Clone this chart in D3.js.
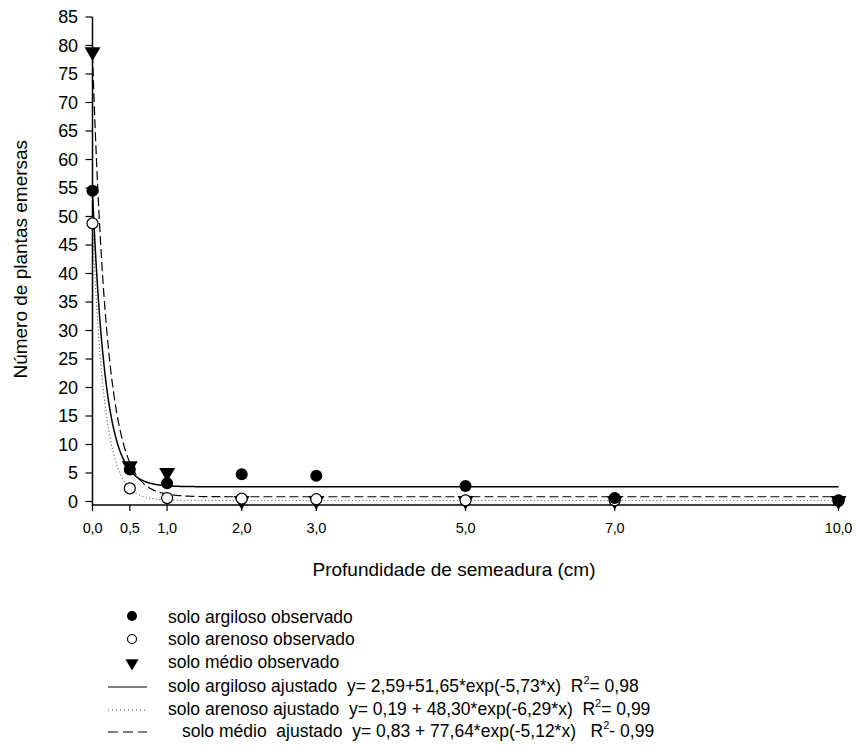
<!DOCTYPE html>
<html><head><meta charset="utf-8">
<script src="https://cdn.jsdelivr.net/npm/d3@7"></script>
<style>body{margin:0;background:#fff}svg text{font-family:"Liberation Sans",Arial,sans-serif;fill:#000}</style>
</head><body>
<script>
const xTicks = [0, 0.5, 1, 2, 3, 5, 7, 10];
const xTickLabels = ["0,0","0,5","1,0","2,0","3,0","5,0","7,0","10,0"];
const yTicks = [0,5,10,15,20,25,30,35,40,45,50,55,60,65,70,75,80,85];
const depth = [0, 0.5, 1, 2, 3, 5, 7, 10];
const argiloso = [54.5, 5.6, 3.2, 4.8, 4.5, 2.7, 0.6, 0.2];
const arenoso = [48.8, 2.3, 0.6, 0.5, 0.4, 0.2, 0.2, 0.1];
const medio = [78.7, 6.1, 4.9, 0, 0, 0, 0, 0];
// fitted model y = a + b*exp(-c*x), parameters as printed in the legend
const fitArgiloso = [2.59, 51.65, 5.73];
const fitArenoso = [0.19, 48.30, 6.29];
const fitMedio = [0.83, 77.64, 5.12];
const legendLabels = [
  "solo argiloso observado",
  "solo arenoso observado",
  "solo médio observado",
  "solo argiloso ajustado  y= 2,59+51,65*exp(-5,73*x)  R",
  "solo arenoso ajustado  y= 0,19 + 48,30*exp(-6,29*x)  R",
  "solo médio  ajustado  y= 0,83 + 77,64*exp(-5,12*x)   R"
];
const legendR2 = ["= 0,98", "= 0,99", "- 0,99"];

const W = 858, H = 749;
const svg = d3.select("body").append("svg").attr("width", W).attr("height", H);
const x = d3.scaleLinear().domain([0, 10]).range([92.5, 838.5]);
const y = d3.scaleLinear().domain([0, 85]).range([501.5, 17]);
const axisY = 505;

// axes
svg.append("line").attr("x1", x(0)).attr("x2", x(0)).attr("y1", y(85)).attr("y2", axisY + 1)
  .attr("stroke", "#000").attr("stroke-width", 1.5);
svg.append("line").attr("x1", x(0)).attr("x2", x(10)).attr("y1", axisY).attr("y2", axisY)
  .attr("stroke", "#000").attr("stroke-width", 1.5);
const gy = svg.append("g");
yTicks.forEach(t => {
  gy.append("line").attr("x1", x(0) - 7).attr("x2", x(0)).attr("y1", y(t)).attr("y2", y(t))
    .attr("stroke", "#000").attr("stroke-width", 1.2);
  gy.append("text").attr("x", x(0) - 15).attr("y", y(t)).attr("dy", "0.36em")
    .attr("text-anchor", "end").attr("font-size", 18).attr("letter-spacing", -0.4).text(t);
});
const gx = svg.append("g");
xTicks.forEach((t, i) => {
  gx.append("line").attr("x1", x(t)).attr("x2", x(t)).attr("y1", axisY).attr("y2", axisY + 6)
    .attr("stroke", "#000").attr("stroke-width", 1.2);
  gx.append("text").attr("x", x(t)).attr("y", 533).attr("text-anchor", "middle")
    .attr("font-size", 14.5).attr("letter-spacing", -0.2).text(xTickLabels[i]);
});
svg.append("text").attr("x", 454).attr("y", 576).attr("text-anchor", "middle")
  .attr("font-size", 19).text("Profundidade de semeadura (cm)");
svg.append("text").attr("transform", `translate(27,${(y(85) + y(0)) / 2}) rotate(-90)`)
  .attr("text-anchor", "middle").attr("font-size", 19)
  .text("Número de plantas emersas");

// fitted curves
const xs = d3.range(0, 10.0001, 0.01);
const line = d3.line().x(d => x(d[0])).y(d => y(d[1]));
function curve(p) { return xs.map(v => [v, p[0] + p[1] * Math.exp(-p[2] * v)]); }
svg.append("path").attr("d", line(curve(fitArenoso))).attr("fill", "none")
  .attr("stroke", "#333").attr("stroke-width", 1).attr("stroke-dasharray", "1,2.5");
svg.append("path").attr("d", line(curve(fitMedio))).attr("fill", "none")
  .attr("stroke", "#000").attr("stroke-width", 1.2).attr("stroke-dasharray", "9,4");
svg.append("path").attr("d", line(curve(fitArgiloso))).attr("fill", "none")
  .attr("stroke", "#000").attr("stroke-width", 1.5);

// markers
const tri = d3.symbol().type(d3.symbolTriangle).size(110);
svg.append("g").selectAll("path").data(depth).join("path")
  .attr("d", tri).attr("transform", (d, i) => `translate(${x(d)},${y(medio[i]) - 1}) rotate(180)`)
  .attr("fill", "#000");
svg.append("g").selectAll("circle").data(depth).join("circle")
  .attr("cx", d => x(d)).attr("cy", (d, i) => y(arenoso[i])).attr("r", 5.5)
  .attr("fill", "#fff").attr("stroke", "#000").attr("stroke-width", 1.2);
svg.append("g").selectAll("circle").data(depth).join("circle")
  .attr("cx", d => x(d)).attr("cy", (d, i) => y(argiloso[i])).attr("r", 6)
  .attr("fill", "#000");

// legend
const lgBase = [623, 645, 668, 692, 715, 737];
const lgX = [168, 168, 168, 168, 168, 182];
const lg = svg.append("g");
lg.append("circle").attr("cx", 132).attr("cy", 616).attr("r", 5).attr("fill", "#000");
lg.append("circle").attr("cx", 132).attr("cy", 639).attr("r", 4.5).attr("fill", "#fff")
  .attr("stroke", "#000").attr("stroke-width", 1.2);
lg.append("path").attr("d", d3.symbol().type(d3.symbolTriangle).size(75))
  .attr("transform", "translate(132,663) rotate(180)").attr("fill", "#000");
lg.append("line").attr("x1", 108).attr("x2", 147).attr("y1", 687).attr("y2", 687)
  .attr("stroke", "#000").attr("stroke-width", 1.2);
lg.append("line").attr("x1", 108).attr("x2", 147).attr("y1", 710).attr("y2", 710)
  .attr("stroke", "#444").attr("stroke-width", 1).attr("stroke-dasharray", "1,3");
lg.append("line").attr("x1", 108).attr("x2", 147).attr("y1", 732).attr("y2", 732)
  .attr("stroke", "#000").attr("stroke-width", 1.2).attr("stroke-dasharray", "10,5");
legendLabels.forEach((t, i) => {
  const tx = lg.append("text").attr("x", lgX[i]).attr("y", lgBase[i]).attr("font-size", 17.5)
    .style("white-space", "pre");
  tx.append("tspan").text(t);
  if (i >= 3) {
    tx.append("tspan").attr("font-size", 11).attr("dy", -8).text("2");
    tx.append("tspan").attr("dy", 8).text(legendR2[i - 3]);
  }
});
</script>
</body></html>
